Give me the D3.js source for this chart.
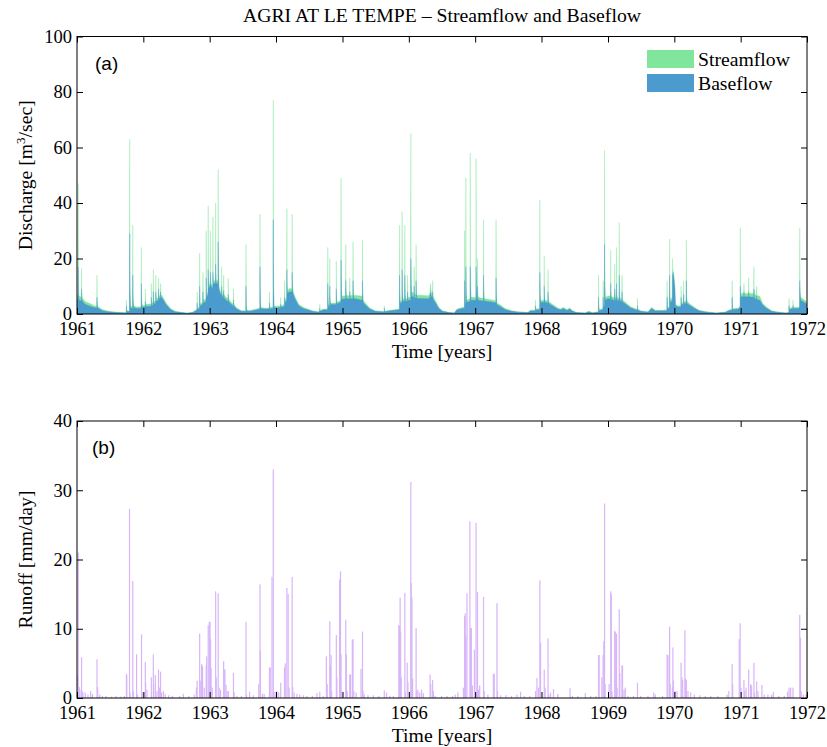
<!DOCTYPE html>
<html>
<head>
<meta charset="utf-8">
<script src="https://cdn.jsdelivr.net/npm/d3@7"></script>
<style>
  body { margin: 0; background: #fff; }
  svg text { font-family: "Liberation Serif", "Times New Roman", serif; }
</style>
</head>
<body>
<svg id="chart" width="827" height="747"></svg>
<script>
// ---- Data -----------------------------------------------------------
// Discharge knots per year: [day of year, streamflow m3/s, baseflow m3/s]
const flow1961 = [
  [0,7,5],[3,6.8,5.2],[6,6.5,5],[7,47,17],[8,14,8],[11,6.5,5],
  [24,6,4.8],[25,16.5,9],[26,8,5.5],[30,5.8,4.6],
  [45,4.5,3.5],[80,3.5,2.6],[95,3,2.3],
  [109,2.8,2.2],[110,14,6],[111,5,3],[115,2.7,2.1],
  [140,1.6,1.2],[170,1.1,0.8],[200,0.8,0.6],[240,0.6,0.45],[268,0.5,0.4],
  [271,0.6,0.5],[272,5,3],[274,1.2,0.9],
  [289,1.2,0.9],[290,63,29],[291,18,9],[294,3,2.2],
  [306,2.6,2],[307,32,14],[308,9,5],[311,3,2.3],
  [330,2.5,2],
  [353,2.6,2.1],[354,24,11],[355,8,4.5],[358,3.2,2.5]
];
const flow1962 = [
  [0,3.1,2.5],[10,3.2,2.5],[11,9,4.5],[13,3.5,2.7],[40,3.6,2.8],
  [43,3.7,2.9],[44,11,6],[46,4,3.1],
  [54,4.2,3.2],[55,16,8],[56,7,4.5],[58,4.5,3.6],
  [68,5,4],[69,14,8],[70,7,5],[72,5.5,4.5],
  [83,6,5],[84,13,9],[85,8,6],[87,6.5,5.5],
  [94,6.8,5.8],[95,11,8],[97,7,6],
  [105,6.5,5.6],[125,4,3.4],[150,2,1.6],[175,1,0.8],[210,0.6,0.5],[240,0.35,0.3],[270,0.6,0.5],[290,1.5,1.2],
  [295,1.8,1.4],[296,8,4],[298,2.2,1.7],
  [309,2.5,2],[310,22,10],[311,7,4],[314,3.5,2.8],
  [320,4,3.3],[327,4.3,3.5],[328,15,8],[330,5,4],
  [345,5.5,4.5],[346,30,13],[347,10,7],[350,7,6],
  [356,8,7],[357,39,16],[358,14,10],[362,10,9]
];
const flow1963 = [
  [0,11,10],[3,11,10],[4,30,15],[5,14,11],[8,11,10],
  [17,10,9],[18,35,15],[19,14,11],[22,12,11],
  [32,12,11],[33,40,18],[34,16,13],[37,12,11],
  [46,12,11],[47,52,26],[48,20,15],[51,10,9],
  [60,8,7],[65,7.5,6.5],[66,17,10],[67,9,7.5],[70,7,6],
  [76,7,6],[77,14,8.5],[79,7,6],
  [90,6,5],[101,5.5,4.5],[102,12.8,7],[104,5.5,4.5],
  [115,4.5,3.7],[130,3.5,2.9],[131,9,5],[133,3.5,2.9],
  [150,2.2,1.8],[175,1.2,1],
  [199,1.2,1],[200,25,10],[201,6,3],[204,1.4,1.1],
  [220,1.3,1],[255,1.8,1.4],
  [276,2.2,1.8],[277,36,17],[278,10,6],[281,2.4,2],
  [300,2.2,1.8],[328,2.2,1.8],[329,8,4],[331,2.4,1.9],
  [349,2.5,2],[350,77,34],[351,20,10],[354,3,2.4]
];
const flow1964 = [
  [0,2.8,2.2],[25,2.9,2.3],[26,6,3.5],[28,3,2.4],[45,3.3,2.7],
  [46,3.5,2.8],[47,12,6],[49,5,4],
  [59,6,5],[60,38,16],[61,12,9],[64,8.5,7.5],
  [75,9.3,8],[88,9,8],[89,36,15],[90,13,10],[93,8.5,7.5],
  [105,6.2,5.4],[125,3.5,3],[150,2.4,2],[175,1.8,1.5],[200,1.2,1],[230,0.8,0.7],
  [240,1,0.8],[241,3.5,2],[243,1.2,1],
  [260,1.8,1.5],[278,1.8,1.5],
  [284,1.9,1.6],[285,24,11],[286,7,4.5],[289,3,2.5],
  [295,3.5,3],[296,20,10],[297,7,5],[300,4,3.4],
  [331,4,3.4],[332,19,9],[333,7,5],[336,4.2,3.6],
  [357,5,4.3],[358,49,19.5],[359,16,10],[362,6,5]
];
const flow1965 = [
  [0,6.5,5.4],[17,6.6,5.5],[18,25,12],[19,10,7],[22,6.8,5.6],
  [35,6.6,5.4],[39,6.6,5.4],[40,13,8],[42,6.7,5.5],
  [57,6.8,5.6],[58,26,12],[59,10,7],[62,6.8,5.6],
  [90,6.6,5.2],[109,6.4,5],[110,26.7,12],[111,10,7],[114,5,4.1],
  [130,3.6,3],[150,2.2,1.8],[180,1.2,1],
  [229,0.9,0.75],[230,3,2],[232,1,0.8],
  [255,1.3,1.1],[310,1.8,1.5],
  [313,2,1.6],[314,32,14],[315,10,6],[318,4.5,3.8],
  [327,5,4.2],[328,37,16],[329,12,8],[332,5.5,4.6],
  [342,5.5,4.6],[343,32,14],[344,11,7],[347,5.5,4.6],
  [357,5.6,4.7],[358,14,8],[360,6,5]
];
const flow1966 = [
  [0,6,5],[10,6,5],[11,65,20],[12,20,11],[15,8,6.5],
  [28,7.5,6],[29,17,10],[31,7,5.8],
  [39,7,5.8],[40,25,12],[41,9,7],[44,6.8,5.6],
  [70,6.8,5.6],[105,6.6,5.5],[115,7,5.8],[120,10.9,8],[124,7.4,6.2],
  [130,7.2,6],[131,12,8],[133,6.5,5.4],
  [145,5,4.2],[165,2.4,2],[185,1.2,1],[220,0.6,0.5],[250,0.4,0.35],[265,1.8,1.5],[295,2.4,2],
  [306,2.5,2.1],[307,30,12],[308,9,5],[311,4,3.4],
  [313,4.5,3.8],[314,49,17],[315,14,8],[318,5,4.2],
  [337,5.5,4.6],[338,58,17],[339,18,10],[342,6,5],
  [355,6,5]
];
const flow1967 = [
  [0,6,5],[4,6,5],[5,56,17],[6,18,10],[9,6.2,5.2],
  [12,6.2,5.2],[13,20,10],[14,8,6],[17,6,5],
  [45,5.6,4.7],[46,34,14],[47,11,7],[50,5.6,4.7],
  [80,5.2,4.4],[100,5,4.2],
  [114,4.8,4],[115,34,13],[116,10,6],[119,4,3.4],
  [140,3.2,2.6],[165,2,1.6],[200,1.2,1],[240,0.8,0.65],[290,0.6,0.5],[305,1.4,1.1],[325,1.4,1.1],
  [331,1.5,1.2],[332,5,3],[334,1.8,1.4],
  [355,2,1.6],[356,41,15],[357,12,7],[360,5,4.2]
];
const flow1968 = [
  [0,5,4.2],[14,5,4.2],[15,21,10],[16,8,6],[19,5,4.2],
  [35,4.8,4],[36,16,8],[37,7,5],[40,4.5,3.8],
  [60,3.5,3],[90,2.2,1.8],[105,1.8,1.5],[120,2.4,2],[140,1.6,1.3],[155,2.2,1.8],[170,1.3,1.1],
  [190,0.6,0.5],[240,0.4,0.35],[260,1,0.8],[280,0.5,0.4],[310,0.8,0.65],
  [313,0.9,0.7],[314,14,6],[315,4,2.5],[318,1.5,1.2],
  [338,2,1.6],[339,12,6],[341,3,2.4],
  [346,3.5,2.8],[347,59,25],[348,18,10],[351,6,5],
  [364,6.4,5.5]
];
const flow1969 = [
  [0,6.5,5.5],[14,6.5,5.5],[15,23,11],[16,9,7],[19,6.2,5.2],
  [36,6,5],[37,18,9],[38,8,6],[41,6,5],
  [46,6,5],[47,24,11],[48,9,7],[51,5.8,4.9],
  [61,5.8,4.9],[62,33,14],[63,11,7],[66,5.6,4.8],
  [76,5.4,4.6],[77,14,8],[79,5.2,4.4],
  [100,4,3.4],[125,2.6,2.2],[155,1.8,1.5],
  [161,1.6,1.3],[162,5.6,3],[164,1.8,1.4],
  [180,1.2,1],[220,0.8,0.65],[240,2.4,2],[260,1.4,1.1],[300,1.4,1.1],
  [324,1.5,1.2],[325,12,6],[327,2.5,2],
  [338,2.5,2],[339,27,14],[340,9,6],[343,5,4],
  [354,6,5],[355,20,14],[356,16,14],[358,16,15],[364,13,12]
];
const flow1970 = [
  [0,12,11],[3,10,9],[6,3.5,3],[20,3,2.5],
  [36,3,2.5],[37,10,6],[39,4,3.4],
  [50,4.2,3.5],[51,12,7],[53,4.5,3.8],
  [65,4.5,3.8],[66,26.6,12],[67,9,6],[70,4.5,3.8],
  [90,3.4,2.9],[120,2,1.7],[140,1.3,1.1],[180,0.8,0.65],[230,0.4,0.35],[280,0.7,0.6],[305,1.6,1.3],
  [317,1.7,1.4],[318,12,6],[320,2,1.6],
  [355,2.2,1.8],[362,3,2.5],[363,31,10],[364,10,8]
];
const flow1971 = [
  [0,7.4,6.2],[17,7.4,6.2],[18,11,8],[20,7.4,6.2],
  [43,7.4,6.2],[44,13,8],[46,7.4,6.2],
  [72,7.4,6],[73,17,9],[74,9,7],[77,7,5.6],
  [85,6.8,5.3],[88,10,6.5],[90,6.7,5.2],[105,6.4,5],
  [120,4,3.3],[140,2.6,2.2],[170,1.2,1],[200,0.8,0.65],[250,0.4,0.35],
  [265,0.6,0.5],[266,5.6,3],[268,2,1.6],
  [285,2.4,2],[287,2.4,2],[288,5,3],[290,2.4,2],
  [320,2.4,2],[324,3,2.5],[325,31,12],[326,10,8],[330,6,5],
  [364,4.4,3.6]
];

// Daily runoff per year: [day of year, runoff mm/day]
const runoff1961 = [[2,3.3],[7,21],[12,1.6],[16,1.2],[25,5.9],[28,1.0],[33,0.8],[45,0.8],[60,0.5],[75,1.0],[85,0.6],
  [110,5.6],[114,1.6],[125,0.5],[140,0.3],[160,0.3],[190,0.2],[215,0.3],[240,0.2],[260,0.3],
  [272,3.5],[274,3.3],[289,27.3],[292,0.8],[307,16.9],[310,1.0],[328,6.3],[333,0.5],[355,9.2],[362,0.8]];
const runoff1962 = [[3,0.8],[11,5.2],[13,2.2],[20,1.2],[44,3],[55,6.3],[57,2],[66,3.3],[75,1],[84,4.1],[90,1.5],[95,3.8],
  [100,0.8],[110,1],[120,0.6],[140,0.4],[160,0.3],[200,0.3],[220,0.6],[250,0.3],[280,0.5],[292,1.5],[296,2.5],
  [310,9.3],[313,2.5],[321,4.9],[326,4.6],[335,1.5],[346,4.8],[349,6],[357,10.5],[363,11]];
const runoff1963 = [[2,11],[5,8.5],[8,4.3],[14,1.5],[33,15.4],[36,3],[47,15.1],[52,1.5],[60,1.2],[77,5.3],[80,4.1],[84,4.1],
  [90,1.9],[96,1.0],[103,1.0],[131,3.6],[135,0.8],[150,0.3],[175,0.3],[200,11],[203,0.5],[220,0.9],[240,0.4],
  [270,2],[277,16.4],[279,6.8],[290,0.6],[300,0.6],[329,4.4],[333,4.4],[343,17.5],[350,33],[353,0.8],[360,0.9]];
const runoff1964 = [[5,1],[15,0.8],[26,2.2],[47,4.4],[51,5],[60,15.9],[67,15],[72,1.5],[89,17.5],[92,1.6],[100,0.8],
  [115,0.6],[130,0.5],[150,0.4],[170,0.3],[200,0.3],[225,0.7],[241,0.9],[260,0.3],[277,6],[282,2],[296,11.1],
  [299,4.7],[303,6.2],[306,1],[332,9.1],[335,3],[350,17.1],[355,18.3],[358,6.3],[362,1]];
const runoff1965 = [[18,11.3],[21,6.3],[26,1],[40,3.4],[44,3.4],[54,8.4],[58,8.5],[62,1],[75,0.8],[102,4.2],[110,9.6],
  [113,1],[120,0.5],[140,0.4],[170,0.4],[200,0.3],[230,1.1],[242,0.8],[260,0.3],[280,0.3],[310,10.5],[314,10.5],
  [317,14.5],[320,9.6],[323,3],[343,15.2],[346,0.8],[356,5.1],[360,2.3]];
const runoff1966 = [[11,31.2],[13,16.6],[17,14.5],[21,2.8],[40,10.1],[43,1],[50,1.2],[60,0.8],[70,1.2],[80,0.7],
  [117,3.4],[121,2],[131,2.6],[135,1],[145,0.3],[180,0.3],[210,0.3],[240,0.3],[255,0.5],[270,0.8],[300,1.5],
  [307,11.8],[310,12.2],[314,9],[320,15.1],[336,25.5],[340,10.1],[344,10.1],[350,1.8],[361,7]];
const runoff1967 = [[5,25.3],[13,15.3],[18,1.2],[25,1.8],[46,14.6],[50,1],[70,0.5],[100,3.5],[105,3.5],[120,13.7],
  [123,1],[140,0.4],[170,0.4],[200,0.3],[230,0.5],[250,0.9],[270,0.3],[300,0.3],[332,1],[340,2.9],[348,1.5],
  [356,17],[360,8]];
const runoff1968 = [[15,4.1],[20,1.5],[36,8.6],[40,0.5],[50,0.8],[66,1.3],[90,0.6],[157,1.4],[170,0.3],[200,0.3],
  [241,0.7],[270,0.3],[300,0.3],[314,6.2],[317,6.2],[332,3],[339,6.2],[343,8.2],[347,28.1],[350,2]];
const runoff1969 = [[6,2],[15,15.4],[18,15],[22,1],[37,9.7],[40,9.5],[47,9.3],[50,1.5],[62,12.8],[65,3.6],[77,4.7],
  [80,4.7],[88,1.2],[95,1.5],[110,0.3],[140,0.3],[162,2.2],[180,0.3],[220,0.3],[252,0.8],[260,0.5],[300,0.3],
  [325,6.3],[330,6.2],[339,10.3],[342,2],[354,1.5],[357,7.3],[360,2.5]];
const runoff1970 = [[5,1],[15,1],[37,5.1],[42,3],[46,2.6],[58,9.8],[62,2.8],[66,2.6],[75,1],[90,0.8],[110,0.5],
  [140,0.4],[170,0.3],[200,0.3],[240,0.3],[290,0.5],[300,1],[318,4.9],[321,2],[357,8.5],[362,10.8]];
const runoff1971 = [[2,1.5],[18,2.6],[22,1],[30,1.5],[44,4.1],[55,2],[60,1.8],[73,5.1],[77,0.8],[88,2.4],[95,1],
  [117,1.9],[130,0.5],[150,0.5],[170,0.5],[180,0.9],[210,0.3],[240,0.3],[258,0.9],[266,1.5],[275,1.5],[288,1.5],
  [325,12],[329,8.7],[333,1],[345,0.5],[360,0.5]];

const years = [1961,1962,1963,1964,1965,1966,1967,1968,1969,1970,1971,1972];
const flowYears = [flow1961,flow1962,flow1963,flow1964,flow1965,flow1966,flow1967,flow1968,flow1969,flow1970,flow1971];
const runoffYears = [runoff1961,runoff1962,runoff1963,runoff1964,runoff1965,runoff1966,runoff1967,runoff1968,runoff1969,runoff1970,runoff1971];
const dischargeTicks = [0,20,40,60,80,100];
const runoffTicks = [0,10,20,30,40];

// ---- Layout ---------------------------------------------------------
const plotLeft = 77, plotRight = 807;
const panelA = { top: 36.5, bottom: 314 };
const panelB = { top: 421, bottom: 698 };
const colors = { stream: "#80e69b", base: "#4b9bce", runoff: "#d8b5f8" };
const tickFont = 18.5;
const labelFont = 19.7;

const svg = d3.select("#chart");
const toDate = (yr, day) => new Date(Date.UTC(yr, 0, 1 + day));

const flowSeries = [];
flowYears.forEach((rows, i) => rows.forEach(([d, q, b]) =>
  flowSeries.push({ date: toDate(years[i], d), q, b })));
const runoffSeries = [];
runoffYears.forEach((rows, i) => rows.forEach(([d, r]) =>
  runoffSeries.push({ date: toDate(years[i], d), r })));

const x = d3.scaleUtc()
  .domain([toDate(1961, 0), toDate(1972, 0)])
  .range([plotLeft, plotRight]);
const yA = d3.scaleLinear().domain([0, 100]).range([panelA.bottom, panelA.top]);
const yB = d3.scaleLinear().domain([0, 40]).range([panelB.bottom, panelB.top]);
const yearDates = years.map(y => toDate(y, 0));

// clip regions
const defs = svg.append("defs");
[["clipA", panelA], ["clipB", panelB]].forEach(([id, p]) => {
  defs.append("clipPath").attr("id", id).append("rect")
    .attr("x", plotLeft).attr("y", p.top)
    .attr("width", plotRight - plotLeft).attr("height", p.bottom - p.top);
});

// ---- Panel (a): streamflow and baseflow areas (thin edges in face colour) --
const gA = svg.append("g").attr("clip-path", "url(#clipA)");
gA.append("path").datum(flowSeries)
  .attr("fill", colors.stream).attr("stroke", colors.stream)
  .attr("stroke-width", 0.35).attr("stroke-linejoin", "bevel")
  .attr("d", d3.area().x(d => x(d.date)).y0(yA(0)).y1(d => yA(d.q)));
gA.append("path").datum(flowSeries)
  .attr("fill", colors.base).attr("stroke", colors.base)
  .attr("stroke-width", 0.35).attr("stroke-linejoin", "bevel")
  .attr("d", d3.area().x(d => x(d.date)).y0(yA(0)).y1(d => yA(d.b)));

// ---- Panel (b): daily runoff bars ------------------------------------
const gB = svg.append("g").attr("clip-path", "url(#clipB)");
gB.selectAll("rect").data(runoffSeries).join("rect")
  .attr("x", d => x(d.date) - 0.6)
  .attr("width", 1.2)
  .attr("y", d => yB(d.r))
  .attr("height", d => yB(0) - yB(d.r))
  .attr("fill", colors.runoff);

// ---- Axes -------------------------------------------------------------
function drawAxes(y, ticks, p) {
  const g = svg.append("g");
  const styleAxis = sel => {
    sel.select(".domain").remove();
    sel.selectAll(".tick line").attr("stroke", "#000").attr("stroke-width", 1);
    sel.selectAll(".tick text").attr("fill", "#000")
      .style("font-family", "'Liberation Serif', 'Times New Roman', serif").style("font-size", tickFont + "px");
  };
  g.append("g").attr("transform", `translate(0,${p.bottom})`)
    .call(d3.axisBottom(x).tickValues(yearDates).tickFormat(d3.utcFormat("%Y")).tickSize(-6).tickPadding(8))
    .call(styleAxis);
  g.append("g").attr("transform", `translate(0,${p.top})`)
    .call(d3.axisTop(x).tickValues(yearDates).tickFormat("").tickSize(-6))
    .call(styleAxis);
  g.append("g").attr("transform", `translate(${plotLeft},0)`)
    .call(d3.axisLeft(y).tickValues(ticks).tickSize(-6).tickPadding(5))
    .call(styleAxis);
  g.append("g").attr("transform", `translate(${plotRight},0)`)
    .call(d3.axisRight(y).tickValues(ticks).tickFormat("").tickSize(-6))
    .call(styleAxis);
  g.append("rect")
    .attr("x", plotLeft).attr("y", p.top)
    .attr("width", plotRight - plotLeft).attr("height", p.bottom - p.top)
    .attr("fill", "none").attr("stroke", "#000").attr("stroke-width", 1);
}
drawAxes(yA, dischargeTicks, panelA);
drawAxes(yB, runoffTicks, panelB);

// ---- Text ---------------------------------------------------------------
const midX = (plotLeft + plotRight) / 2;
svg.append("text").attr("x", midX).attr("y", 22).attr("text-anchor", "middle")
  .style("font-size", labelFont + "px").text("AGRI AT LE TEMPE \u2013 Streamflow and Baseflow");

svg.append("text").attr("x", midX).attr("y", 358).attr("text-anchor", "middle")
  .style("font-size", labelFont + "px").text("Time [years]");
svg.append("text").attr("x", midX).attr("y", 742).attr("text-anchor", "middle")
  .style("font-size", labelFont + "px").text("Time [years]");

const ylabA = svg.append("text")
  .attr("transform", `translate(32,${(panelA.top + panelA.bottom) / 2}) rotate(-90)`)
  .attr("text-anchor", "middle").style("font-size", labelFont + "px");
ylabA.append("tspan").text("Discharge [m");
ylabA.append("tspan").attr("dy", -7).style("font-size", "13px").text("3");
ylabA.append("tspan").attr("dy", 7).text("/sec]");

svg.append("text")
  .attr("transform", `translate(32,${(panelB.top + panelB.bottom) / 2}) rotate(-90)`)
  .attr("text-anchor", "middle").style("font-size", labelFont + "px").text("Runoff [mm/day]");

svg.append("text").attr("x", 95).attr("y", 70)
  .style("font-family", "'Liberation Sans', Arial, sans-serif").style("font-size", "19px").text("(a)");
svg.append("text").attr("x", 92).attr("y", 454)
  .style("font-family", "'Liberation Sans', Arial, sans-serif").style("font-size", "19px").text("(b)");

// legend
const legendItems = [
  { label: "Streamflow", color: colors.stream },
  { label: "Baseflow", color: colors.base }
];
const legend = svg.append("g");
legendItems.forEach((item, i) => {
  legend.append("rect").attr("x", 647).attr("y", 50 + i * 24)
    .attr("width", 47).attr("height", 18).attr("fill", item.color);
  legend.append("text").attr("x", 698).attr("y", 66 + i * 24)
    .style("font-size", labelFont + "px").text(item.label);
});
</script>
</body>
</html>
